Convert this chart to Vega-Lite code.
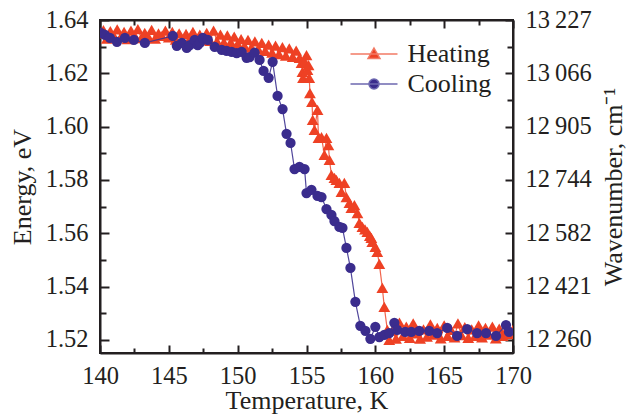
{
  "$schema": "https://vega.github.io/schema/vega-lite/v6.json",
  "width": 413,
  "height": 333,
  "autosize": "none",
  "padding": {"left": 100, "top": 20, "right": 115, "bottom": 64},
  "background": "white",
  "config": {
    "font": "Liberation Serif",
    "view": {"stroke": "#231f20", "strokeWidth": 2},
    "style": {"guide-label": {"font": "Liberation Serif"}, "guide-title": {"font": "Liberation Serif"}},
    "axis": {
      "labelFont": "Liberation Serif", "titleFont": "Liberation Serif",
      "labelFontSize": 24.5, "titleFontSize": 26, "titleFontWeight": "normal",
      "labelColor": "#231f20", "titleColor": "#231f20", "tickColor": "#231f20",
      "domainColor": "#231f20", "domainWidth": 2, "tickWidth": 2, "grid": false,
      "labelFlush": false, "labelOverlap": false, "labelBound": false
    },
    "legend": {"labelFont": "Liberation Serif", "labelFontSize": 26, "labelColor": "#231f20"}
  },
  "data": {"values": [
    {"s":"Heating","T":140,"E":1.635},{"s":"Heating","T":140.25,"E":1.6362},{"s":"Heating","T":140.5,"E":1.633},{"s":"Heating","T":140.75,"E":1.6358},{"s":"Heating","T":141,"E":1.634},{"s":"Heating","T":141.25,"E":1.6365},{"s":"Heating","T":141.5,"E":1.6335},{"s":"Heating","T":141.75,"E":1.6355},{"s":"Heating","T":142,"E":1.6328},{"s":"Heating","T":142.25,"E":1.636},{"s":"Heating","T":142.5,"E":1.6342},{"s":"Heating","T":142.75,"E":1.6366},{"s":"Heating","T":143,"E":1.6332},{"s":"Heating","T":143.25,"E":1.6352},{"s":"Heating","T":143.5,"E":1.6338},{"s":"Heating","T":143.75,"E":1.6363},{"s":"Heating","T":144,"E":1.633},{"s":"Heating","T":144.25,"E":1.635},{"s":"Heating","T":144.5,"E":1.634},{"s":"Heating","T":144.75,"E":1.636},{"s":"Heating","T":145,"E":1.6335},
    {"s":"Heating","T":145.25,"E":1.6355},{"s":"Heating","T":145.5,"E":1.6326},{"s":"Heating","T":145.75,"E":1.635},{"s":"Heating","T":146,"E":1.6323},{"s":"Heating","T":146.25,"E":1.6348},{"s":"Heating","T":146.5,"E":1.6328},{"s":"Heating","T":146.75,"E":1.6355},{"s":"Heating","T":147,"E":1.632},{"s":"Heating","T":147.25,"E":1.6345},{"s":"Heating","T":147.5,"E":1.6325},{"s":"Heating","T":147.75,"E":1.6352},{"s":"Heating","T":148,"E":1.6322},{"s":"Heating","T":148.25,"E":1.636},{"s":"Heating","T":148.5,"E":1.632},{"s":"Heating","T":148.75,"E":1.6345},{"s":"Heating","T":149,"E":1.6316},{"s":"Heating","T":149.25,"E":1.6342},{"s":"Heating","T":149.5,"E":1.6316},{"s":"Heating","T":149.75,"E":1.6338},{"s":"Heating","T":150,"E":1.631},
    {"s":"Heating","T":150.25,"E":1.6328},{"s":"Heating","T":150.5,"E":1.6302},{"s":"Heating","T":150.75,"E":1.6325},{"s":"Heating","T":151,"E":1.6296},{"s":"Heating","T":151.25,"E":1.632},{"s":"Heating","T":151.5,"E":1.629},{"s":"Heating","T":151.75,"E":1.6314},{"s":"Heating","T":152,"E":1.6284},{"s":"Heating","T":152.25,"E":1.6308},{"s":"Heating","T":152.5,"E":1.6278},{"s":"Heating","T":152.75,"E":1.6304},{"s":"Heating","T":153,"E":1.6272},{"s":"Heating","T":153.25,"E":1.6298},{"s":"Heating","T":153.5,"E":1.6266},{"s":"Heating","T":153.75,"E":1.6294},{"s":"Heating","T":154,"E":1.6262},{"s":"Heating","T":154.25,"E":1.6285},{"s":"Heating","T":154.5,"E":1.6258},
    {"s":"Heating","T":154.64,"E":1.6239},{"s":"Heating","T":154.71,"E":1.6205},{"s":"Heating","T":154.75,"E":1.6183},{"s":"Heating","T":154.86,"E":1.6243},{"s":"Heating","T":155,"E":1.6268},{"s":"Heating","T":155.07,"E":1.6213},{"s":"Heating","T":155.15,"E":1.6231},{"s":"Heating","T":155.2,"E":1.6183},{"s":"Heating","T":155.25,"E":1.6126},{"s":"Heating","T":155.4,"E":1.6093},{"s":"Heating","T":155.45,"E":1.6025},{"s":"Heating","T":155.58,"E":1.5988},{"s":"Heating","T":155.8,"E":1.6063},{"s":"Heating","T":155.87,"E":1.5958},{"s":"Heating","T":156.09,"E":1.5961},{"s":"Heating","T":156.3,"E":1.5894},{"s":"Heating","T":156.45,"E":1.5958},{"s":"Heating","T":156.59,"E":1.5931},{"s":"Heating","T":156.67,"E":1.5875},{"s":"Heating","T":156.81,"E":1.5819},{"s":"Heating","T":157.03,"E":1.5808},{"s":"Heating","T":157.17,"E":1.58},{"s":"Heating","T":157.39,"E":1.5789},{"s":"Heating","T":157.54,"E":1.5755},{"s":"Heating","T":157.75,"E":1.5789},{"s":"Heating","T":157.9,"E":1.5736},{"s":"Heating","T":158.12,"E":1.5714},{"s":"Heating","T":158.26,"E":1.5695},{"s":"Heating","T":158.48,"E":1.5706},{"s":"Heating","T":158.7,"E":1.5676},{"s":"Heating","T":158.84,"E":1.5639},{"s":"Heating","T":159.06,"E":1.5624},{"s":"Heating","T":159.25,"E":1.5615},{"s":"Heating","T":159.42,"E":1.5605},{"s":"Heating","T":159.6,"E":1.559},{"s":"Heating","T":159.71,"E":1.5583},{"s":"Heating","T":159.78,"E":1.5568},{"s":"Heating","T":160,"E":1.5549},{"s":"Heating","T":160.14,"E":1.553},{"s":"Heating","T":160.29,"E":1.5485},{"s":"Heating","T":160.51,"E":1.5395},{"s":"Heating","T":160.65,"E":1.5324},{"s":"Heating","T":160.87,"E":1.5238},{"s":"Heating","T":161.01,"E":1.52},
    {"s":"Heating","T":161.25,"E":1.5235},{"s":"Heating","T":161.5,"E":1.5205},{"s":"Heating","T":161.75,"E":1.5265},{"s":"Heating","T":162,"E":1.5215},{"s":"Heating","T":162.25,"E":1.525},{"s":"Heating","T":162.5,"E":1.5208},{"s":"Heating","T":162.75,"E":1.5262},{"s":"Heating","T":163,"E":1.5225},{"s":"Heating","T":163.25,"E":1.5205},{"s":"Heating","T":163.5,"E":1.524},{"s":"Heating","T":163.75,"E":1.5212},{"s":"Heating","T":164,"E":1.5258},{"s":"Heating","T":164.25,"E":1.522},{"s":"Heating","T":164.5,"E":1.5245},{"s":"Heating","T":164.75,"E":1.5206},{"s":"Heating","T":165,"E":1.5255},{"s":"Heating","T":165.25,"E":1.5215},{"s":"Heating","T":165.5,"E":1.5238},{"s":"Heating","T":165.75,"E":1.521},{"s":"Heating","T":166,"E":1.5262},{"s":"Heating","T":166.25,"E":1.5218},{"s":"Heating","T":166.5,"E":1.5248},{"s":"Heating","T":166.75,"E":1.5208},{"s":"Heating","T":167,"E":1.524},{"s":"Heating","T":167.25,"E":1.5215},{"s":"Heating","T":167.5,"E":1.5255},{"s":"Heating","T":167.75,"E":1.521},{"s":"Heating","T":168,"E":1.5245},{"s":"Heating","T":168.25,"E":1.522},{"s":"Heating","T":168.5,"E":1.525},{"s":"Heating","T":168.75,"E":1.5206},{"s":"Heating","T":169,"E":1.5242},{"s":"Heating","T":169.25,"E":1.5215},{"s":"Heating","T":169.5,"E":1.5235},{"s":"Heating","T":169.75,"E":1.5222},{"s":"Heating","T":170,"E":1.5238},
    {"s":"Cooling","T":140.05,"E":1.6352},{"s":"Cooling","T":140.36,"E":1.6344},{"s":"Cooling","T":140.72,"E":1.6333},{"s":"Cooling","T":141.23,"E":1.6318},{"s":"Cooling","T":141.81,"E":1.6333},{"s":"Cooling","T":142.46,"E":1.6325},{"s":"Cooling","T":143.26,"E":1.6314},{"s":"Cooling","T":145.29,"E":1.634},{"s":"Cooling","T":145.58,"E":1.6303},{"s":"Cooling","T":145.94,"E":1.6314},{"s":"Cooling","T":146.3,"E":1.6295},{"s":"Cooling","T":146.52,"E":1.6306},{"s":"Cooling","T":146.88,"E":1.6325},{"s":"Cooling","T":147.1,"E":1.6306},{"s":"Cooling","T":147.25,"E":1.6314},{"s":"Cooling","T":147.46,"E":1.6333},{"s":"Cooling","T":147.83,"E":1.6325},{"s":"Cooling","T":148.33,"E":1.6299},{"s":"Cooling","T":148.84,"E":1.6288},{"s":"Cooling","T":149.2,"E":1.6284},{"s":"Cooling","T":149.57,"E":1.628},{"s":"Cooling","T":149.93,"E":1.6276},{"s":"Cooling","T":150.29,"E":1.628},{"s":"Cooling","T":150.65,"E":1.6258},{"s":"Cooling","T":150.87,"E":1.6261},{"s":"Cooling","T":151.23,"E":1.6278},{"s":"Cooling","T":151.59,"E":1.625},{"s":"Cooling","T":151.88,"E":1.6209},{"s":"Cooling","T":152.25,"E":1.6183},{"s":"Cooling","T":152.54,"E":1.6243},{"s":"Cooling","T":152.9,"E":1.6115},{"s":"Cooling","T":153.26,"E":1.6066},{"s":"Cooling","T":153.55,"E":1.5973},{"s":"Cooling","T":153.84,"E":1.5939},{"s":"Cooling","T":154.13,"E":1.5841},{"s":"Cooling","T":154.49,"E":1.5849},{"s":"Cooling","T":154.86,"E":1.5841},{"s":"Cooling","T":155,"E":1.5751},{"s":"Cooling","T":155.36,"E":1.5763},{"s":"Cooling","T":155.8,"E":1.574},{"s":"Cooling","T":156.09,"E":1.5736},{"s":"Cooling","T":156.45,"E":1.5691},{"s":"Cooling","T":156.81,"E":1.5669},{"s":"Cooling","T":157.03,"E":1.5646},{"s":"Cooling","T":157.39,"E":1.5624},{"s":"Cooling","T":157.61,"E":1.562},{"s":"Cooling","T":157.9,"E":1.5545},{"s":"Cooling","T":158.19,"E":1.547},{"s":"Cooling","T":158.55,"E":1.5343},{"s":"Cooling","T":158.91,"E":1.5253},{"s":"Cooling","T":159.28,"E":1.5234},{"s":"Cooling","T":159.64,"E":1.5204},{"s":"Cooling","T":160,"E":1.5249},{"s":"Cooling","T":160.29,"E":1.5211},{"s":"Cooling","T":160.65,"E":1.5219},{"s":"Cooling","T":161.01,"E":1.5226},{"s":"Cooling","T":161.38,"E":1.5264},{"s":"Cooling","T":161.59,"E":1.5238},{"s":"Cooling","T":162.17,"E":1.523},{"s":"Cooling","T":162.61,"E":1.523},{"s":"Cooling","T":163.19,"E":1.5234},{"s":"Cooling","T":163.91,"E":1.5234},{"s":"Cooling","T":164.49,"E":1.5226},{"s":"Cooling","T":165.22,"E":1.5245},{"s":"Cooling","T":165.94,"E":1.5215},{"s":"Cooling","T":166.67,"E":1.5241},{"s":"Cooling","T":167.39,"E":1.5226},{"s":"Cooling","T":168.04,"E":1.5226},{"s":"Cooling","T":168.77,"E":1.5215},{"s":"Cooling","T":169.49,"E":1.5256},{"s":"Cooling","T":169.71,"E":1.523}
  ]},
  "layer": [
    {
      "transform": [{"filter": "datum.s === 'Heating'"}],
      "mark": {"type": "line", "color": "#ef4a2e", "strokeWidth": 1.2, "opacity": 0.85, "clip": true},
      "encoding": {
        "x": {"field": "T", "type": "quantitative", "scale": {"domain": [140, 170], "nice": false, "zero": false},
          "axis": {"orient": "bottom", "values": [140, 145, 150, 155, 160, 165, 170], "format": "d", "tickSize": -8, "labelPadding": 19, "labelFont": "Liberation Serif", "titleFont": "Liberation Serif", "title": "Temperature, K", "titlePadding": 0}},
        "y": {"field": "E", "type": "quantitative", "scale": {"domain": [1.5151, 1.64], "nice": false, "zero": false},
          "axis": {"orient": "left", "values": [1.52, 1.54, 1.56, 1.58, 1.6, 1.62, 1.64], "format": ".2f", "tickSize": -9, "labelPadding": 21, "labelFont": "Liberation Serif", "titleFont": "Liberation Serif", "title": "Energy, eV", "titlePadding": 10}}
      }
    },
    {
      "transform": [{"filter": "datum.s === 'Heating'"}],
      "mark": {"type": "point", "shape": "triangle-up", "filled": true, "color": "#ee4124", "size": 140, "opacity": 1, "clip": true},
      "encoding": {
        "x": {"field": "T", "type": "quantitative", "scale": {"domain": [140, 170], "nice": false, "zero": false},
          "axis": {"orient": "bottom", "values": [142.5, 147.5, 152.5, 157.5, 162.5, 167.5], "tickSize": -5, "labels": false, "domain": false, "title": null}},
        "y": {"field": "E", "type": "quantitative", "scale": {"domain": [1.5151, 1.64], "nice": false, "zero": false},
          "axis": {"orient": "left", "values": [1.53, 1.55, 1.57, 1.59, 1.61, 1.63], "tickSize": -6, "labels": false, "domain": false, "title": null}}
      }
    },
    {
      "transform": [{"filter": "datum.s === 'Cooling'"}],
      "mark": {"type": "line", "color": "#3d3290", "strokeWidth": 1.2, "opacity": 0.9, "clip": true},
      "encoding": {
        "x": {"field": "T", "type": "quantitative", "scale": {"domain": [140, 170], "nice": false, "zero": false},
          "axis": {"orient": "top", "values": [140, 145, 150, 155, 160, 165, 170], "tickSize": -8, "labels": false, "title": null}},
        "y": {"field": "E", "type": "quantitative", "scale": {"domain": [1.5151, 1.64], "nice": false, "zero": false},
          "axis": {"orient": "right", "values": [1.52, 1.54, 1.56, 1.58, 1.6, 1.62, 1.64], "tickSize": -8, "labelPadding": 20,
            "labelFont": "Liberation Serif", "titleFont": "Liberation Serif",
            "labelExpr": "replace(format(datum.value * 8065.54, ',.0f'), ',', '\u2009')",
            "title": "Wavenumber, cm\u207b\u00b9", "titleAngle": 270, "titleBaseline": "top", "titlePadding": 9}}
      }
    },
    {
      "transform": [{"filter": "datum.s === 'Cooling'"}],
      "mark": {"type": "point", "shape": "circle", "filled": true, "color": "#3a2c8d", "size": 105, "opacity": 1, "clip": true},
      "encoding": {
        "x": {"field": "T", "type": "quantitative", "scale": {"domain": [140, 170], "nice": false, "zero": false},
          "axis": {"orient": "top", "values": [142.5, 147.5, 152.5, 157.5, 162.5, 167.5], "tickSize": -5, "labels": false, "domain": false, "title": null}},
        "y": {"field": "E", "type": "quantitative", "scale": {"domain": [1.5151, 1.64], "nice": false, "zero": false},
          "axis": {"orient": "right", "values": [1.53, 1.55, 1.57, 1.59, 1.61, 1.63], "tickSize": -6, "labels": false, "domain": false, "title": null}}
      }
    },
    {
      "mark": {"type": "point", "filled": true, "opacity": 0, "clip": true},
      "encoding": {
        "x": {"field": "T", "type": "quantitative", "scale": {"domain": [140, 170], "nice": false, "zero": false}, "axis": null},
        "y": {"field": "E", "type": "quantitative", "scale": {"domain": [1.5151, 1.64], "nice": false, "zero": false}, "axis": null},
        "fill": {"field": "s", "type": "nominal", "scale": {"domain": ["Heating", "Cooling"], "range": ["#ee4124", "#3a2c8d"]}},
        "stroke": {"field": "s", "type": "nominal", "scale": {"domain": ["Heating", "Cooling"], "range": ["#f27b66", "#6d68b0"]}},
        "shape": {"field": "s", "type": "nominal",
          "scale": {"domain": ["Heating", "Cooling"], "range": ["M-2.35,0H2.35M0,-0.6L0.6,0.45L-0.6,0.45Z", "M-2.35,0H2.35M0.5,0A0.5,0.5 0 1,1 -0.5,0A0.5,0.5 0 1,1 0.5,0Z"]},
          "legend": {"title": null, "orient": "top-right", "offset": 21, "padding": 0, "symbolSize": 400, "labelOffset": 20.5, "rowPadding": 4,
            "symbolOpacity": 1, "symbolStrokeWidth": 1.5,
            "labelFont": "Liberation Serif", "labelFontSize": 26, "labelColor": "#231f20"}}
      }
    }
  ],
  "resolve": {"axis": {"x": "independent", "y": "independent"}}
}
